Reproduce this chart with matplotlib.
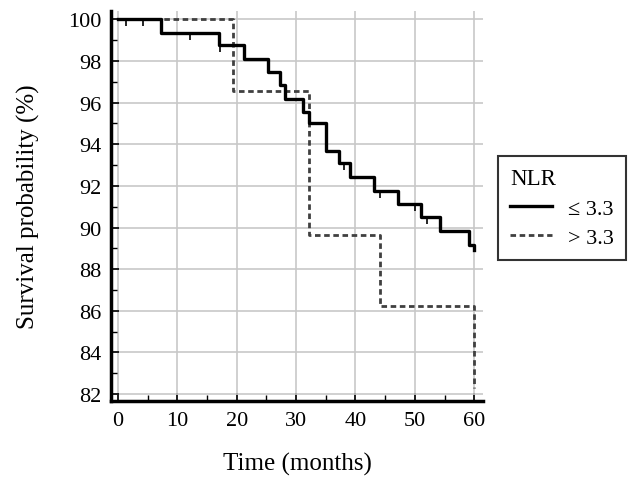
import matplotlib
matplotlib.use("Agg")
import matplotlib.pyplot as plt
from matplotlib.ticker import MultipleLocator

plt.rcParams['font.family'] = ['Liberation Serif', 'DejaVu Serif']

# NLR <= 3.3 (solid)
low_times = [0, 7.2, 17.0, 21.2, 25.2, 27.3, 28.2, 31.2, 32.1, 35.1, 37.3, 39.1,
             43.2, 47.1, 51.0, 54.2, 59.2, 60]
low_surv = [100, 99.36, 98.76, 98.09, 97.48, 96.84, 96.18, 95.56, 95.0, 93.68,
            93.09, 92.45, 91.77, 91.14, 90.51, 89.85, 89.18, 88.9]
low_cens_t = [1.3, 4.2, 12.1, 17.2, 38.0, 44.2, 50.1, 52.0]
low_cens_s = [100, 100, 99.36, 98.76, 93.09, 91.77, 91.14, 90.51]

# NLR > 3.3 (dashed)
high_times = [0, 19.3, 32.1, 44.1, 60]
high_surv = [100, 96.57, 89.66, 86.23, 82.3]

fig = plt.figure(figsize=(6.29, 4.81), dpi=100)
ax = fig.add_axes([0.1765, 0.164, 0.5915, 0.811])

ax.step(low_times, low_surv, where='post', color='black', lw=2.4,
        label='\u2264 3.3', zorder=3)
ax.plot(low_cens_t, low_cens_s, ls='none', marker=3, ms=5, mew=1.2,
        color='black', zorder=3)
ax.step(high_times, high_surv, where='post', color='#404040', lw=2.0,
        ls=(0, (2, 1.3)), label='> 3.3', zorder=2)

ax.set_xlim(-1.2, 61.5)
ax.set_ylim(81.66, 100.4)
ax.xaxis.set_major_locator(MultipleLocator(10))
ax.xaxis.set_minor_locator(MultipleLocator(5))
ax.yaxis.set_major_locator(MultipleLocator(2))
ax.yaxis.set_minor_locator(MultipleLocator(1))
ax.tick_params(which='major', direction='in', length=6, width=1.2,
               labelsize=16, pad=7)
ax.tick_params(which='minor', direction='in', length=4, width=1.0)

for side in ['top', 'right']:
    ax.spines[side].set_visible(False)
for side in ['left', 'bottom']:
    ax.spines[side].set_linewidth(2.5)

ax.grid(True, which='major', color='#c8c8c8', lw=1.2)
ax.set_axisbelow(True)

ax.set_xlabel('Time (months)', fontsize=18, labelpad=16)
ax.set_ylabel('Survival probability (%)', fontsize=18, labelpad=20)

leg = ax.legend(title='NLR', loc='upper left', bbox_to_anchor=(1.04, 0.628),
                fontsize=16, title_fontsize=16.5, frameon=True, fancybox=False,
                handlelength=1.9, handletextpad=0.7, labelspacing=0.4,
                borderpad=0.55, borderaxespad=0, alignment='left')
leg.get_frame().set_edgecolor('black')
leg.get_frame().set_linewidth(1.5)

fig.savefig('out.png', dpi=100)
